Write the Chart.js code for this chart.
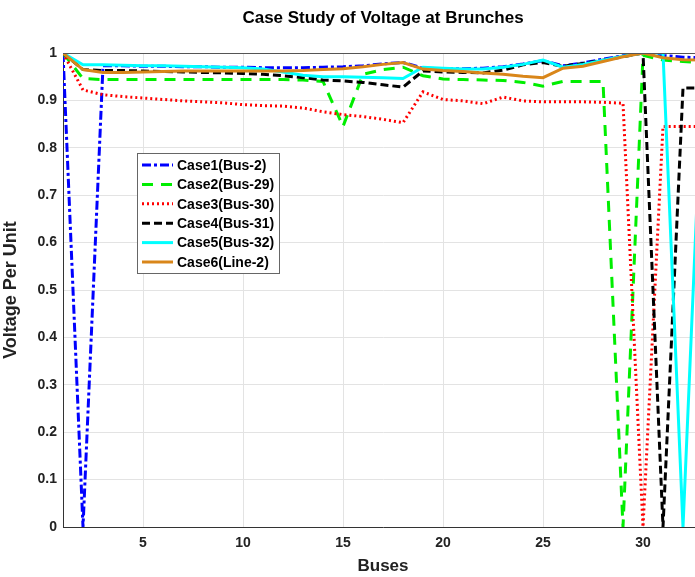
<!DOCTYPE html>
<html>
<head>
<meta charset="utf-8">
<script src="https://cdn.jsdelivr.net/npm/chart.js@4.4.1/dist/chart.umd.min.js"></script>
<style>
html,body{margin:0;padding:0;overflow:hidden;background:#fff;}
#wrap{position:relative;width:710px;height:577px;}
</style>
</head>
<body>
<div id="wrap"><canvas id="c" width="710" height="577"></canvas></div>
<script>
const buses = [1,2,3,4,5,6,7,8,9,10,11,12,13,14,15,16,17,18,19,20,21,22,23,24,25,26,27,28,29,30,31,32,33];
const xTicks = [5,10,15,20,25,30];
const yTicks = [0,0.1,0.2,0.3,0.4,0.5,0.6,0.7,0.8,0.9,1];
const seriesNames = ['Case1(Bus-2)','Case2(Bus-29)','Case3(Bus-30)','Case4(Bus-31)','Case5(Bus-32)','Case6(Line-2)'];
const case1 = [1.0,0,0.973,0.973,0.972,0.972,0.971,0.971,0.970,0.970,0.969,0.969,0.969,0.970,0.971,0.973,0.977,0.980,0.968,0.967,0.967,0.968,0.971,0.977,0.984,0.973,0.979,0.987,0.994,1.0,0.995,0.991,0.990];
const case2 = [1.0,0.946,0.944,0.944,0.944,0.944,0.944,0.944,0.944,0.944,0.944,0.944,0.943,0.940,0.845,0.955,0.965,0.970,0.952,0.945,0.944,0.943,0.942,0.938,0.930,0.940,0.940,0.940,0,0.995,0.985,0.982,0.980];
const case3 = [1.0,0.922,0.912,0.908,0.905,0.902,0.899,0.897,0.895,0.891,0.889,0.888,0.884,0.876,0.870,0.866,0.860,0.853,0.918,0.902,0.899,0.893,0.907,0.899,0.897,0.897,0.897,0.896,0.894,0,0.845,0.845,0.845];
const case4 = [1.0,0.965,0.963,0.963,0.962,0.961,0.960,0.959,0.958,0.957,0.955,0.952,0.948,0.943,0.941,0.938,0.933,0.928,0.962,0.960,0.959,0.958,0.964,0.975,0.980,0.972,0.978,0.985,0.992,1.0,0,0.926,0.926];
const case5 = [1.0,0.975,0.975,0.974,0.973,0.973,0.972,0.971,0.970,0.969,0.966,0.960,0.953,0.950,0.950,0.949,0.948,0.946,0.970,0.968,0.966,0.966,0.970,0.976,0.985,0.970,0.976,0.985,0.993,1.0,1.0,0,0.980];
const case6 = [1.0,0.965,0.959,0.959,0.960,0.961,0.962,0.962,0.962,0.962,0.962,0.962,0.963,0.965,0.967,0.971,0.976,0.980,0.966,0.963,0.961,0.958,0.955,0.951,0.948,0.968,0.972,0.982,0.992,1.0,0.990,0.986,0.985];

const styles = [
  {color:'#0000ff', dash:[9,3,3,3]},
  {color:'#00ee00', dash:[11,8]},
  {color:'#ff0000', dash:[2,3]},
  {color:'#000000', dash:[8,4]},
  {color:'#00ffff', dash:[]},
  {color:'#d9861a', dash:[]}
];
const allData = [case1,case2,case3,case4,case5,case6];

const datasets = allData.map((d,i)=>({
  label: seriesNames[i],
  data: d.map((v,j)=>({x:buses[j], y:v})),
  borderColor: styles[i].color,
  backgroundColor: styles[i].color,
  borderDash: styles[i].dash,
  borderWidth: 3,
  pointRadius: 0,
  tension: 0,
  fill: false,
  order: allData.length - 1 - i
}));

const F = 'Liberation Sans, Arial, sans-serif';

const decor = {
  id:'decor',
  afterDraw(chart){
    const ctx = chart.ctx, a = chart.chartArea;
    ctx.save();
    ctx.strokeStyle = '#555';
    ctx.lineWidth = 1;
    ctx.beginPath(); ctx.moveTo(a.left, a.top+0.5); ctx.lineTo(a.right, a.top+0.5); ctx.stroke();
    ctx.fillStyle = '#000';
    ctx.font = 'bold 17px ' + F;
    ctx.textAlign = 'center'; ctx.textBaseline = 'middle';
    ctx.fillText('Case Study of Voltage at Brunches', 383, 18);
    const lx = 137, ly = 153, lw = 142, lh = 120;
    ctx.fillStyle = '#fff';
    ctx.fillRect(lx, ly, lw, lh);
    ctx.strokeStyle = '#666'; ctx.lineWidth = 1;
    ctx.strokeRect(lx+0.5, ly+0.5, lw, lh);
    chart.data.datasets.forEach((ds,i)=>{
      const y = 165 + i*19.4;
      ctx.strokeStyle = ds.borderColor;
      ctx.lineWidth = 3;
      ctx.setLineDash(ds.borderDash || []);
      ctx.beginPath(); ctx.moveTo(142, y); ctx.lineTo(173, y); ctx.stroke();
      ctx.setLineDash([]);
      ctx.fillStyle = '#000';
      ctx.font = 'bold 14px ' + F;
      ctx.textAlign = 'left'; ctx.textBaseline = 'middle';
      ctx.fillText(ds.label, 177, y+1);
    });
    ctx.restore();
  }
};

new Chart(document.getElementById('c'), {
  type:'line',
  data:{datasets},
  options:{
    responsive:false,
    animation:false,
    layout:{padding:{top:53, right:7, left:0, bottom:0}},
    plugins:{legend:{display:false}, title:{display:false}, tooltip:{enabled:false}},
    scales:{
      x:{
        type:'linear', min:1, max:33,
        afterBuildTicks(s){ s.ticks = xTicks.map(v=>({value:v})); },
        afterFit(s){ s.height = 50; },
        grid:{color:'#e3e3e3', drawTicks:false, lineWidth:1},
        border:{color:'#333', width:1},
        ticks:{color:'#222', font:{family:F, size:14, weight:'bold'}, padding:8, maxRotation:0},
        title:{display:true, text:'Buses', color:'#222', font:{family:F, size:17, weight:'bold'}, padding:{top:2,bottom:0}}
      },
      y:{
        type:'linear', min:0, max:1,
        afterBuildTicks(s){ s.ticks = yTicks.map(v=>({value:v})); },
        afterFit(s){ s.width = 63; },
        grid:{color:'#e3e3e3', drawTicks:false, lineWidth:1},
        border:{color:'#333', width:1},
        ticks:{color:'#222', font:{family:F, size:14, weight:'bold'}, padding:6, callback:v=>String(+v.toFixed(1))},
        title:{display:true, text:'Voltage Per Unit', color:'#222', font:{family:F, size:18, weight:'bold'}, padding:{top:0,bottom:1}}
      }
    }
  },
  plugins:[decor]
});
</script>
</body>
</html>
